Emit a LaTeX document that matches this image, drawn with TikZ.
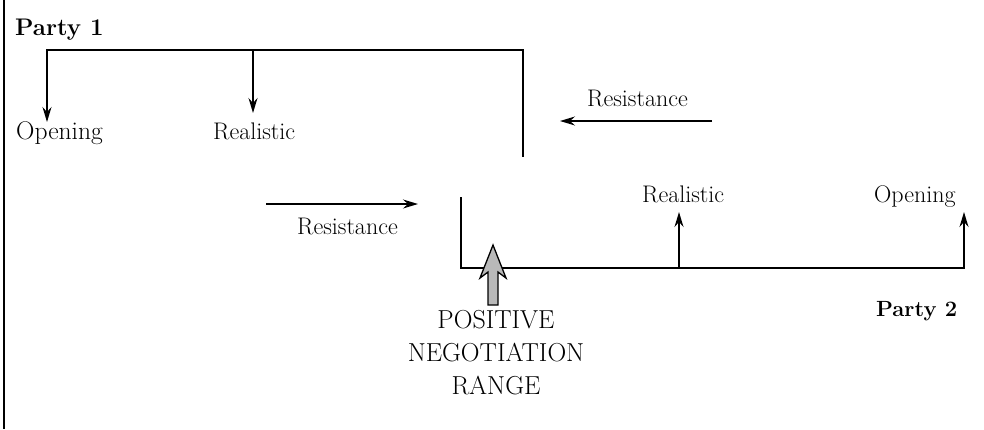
\documentclass[tikz,border=0pt]{standalone}
\usetikzlibrary{arrows.meta}
\begin{document}
\begin{tikzpicture}[x=1pt,y=-1pt,
  lbl/.style={inner sep=0pt,anchor=base west,font=\fontsize{24}{28}\selectfont},
  party/.style={inner sep=0pt,anchor=base west,font=\fontsize{24}{28}\selectfont\bfseries},
  bracket/.style={line width=2pt,line cap=rect},
  arr/.style={line width=1.4pt,-{Stealth[length=15pt,width=9pt,inset=5pt]}},
  bigarrow/.style={draw=black,line width=1.3pt,fill=gray!55,line join=miter}]
\useasboundingbox (0,0) rectangle (984,429);
% left border
\coordinate (bT) at (4,0);
\coordinate (bB) at (4,429);
\draw[line width=1.6pt] (bT) -- (bB);
% texts
\node[party] (party1) at (15,35) {Party 1};
\node[lbl,font=\fontsize{25.5}{30}\selectfont] (open1) at (16,139) {Opening};
\node[lbl] (real1) at (213,139) {Realistic};
\node[lbl] (res1) at (587,106) {Resistance};
\node[lbl] (res2) at (297,234) {Resistance};
\node[lbl] (real2) at (642,202) {Realistic};
\node[lbl] (open2) at (874,202) {Opening};
\node[party,font=\fontsize{22}{26}\selectfont\bfseries] (party2) at (876,316) {Party 2};
\node[inner sep=0pt,anchor=north,align=center,font=\fontsize{26}{33}\selectfont] (pnr) at (496,310) {POSITIVE\\NEGOTIATION\\RANGE};
% party 1 bracket
\coordinate (c1L) at (47,50);
\coordinate (c1M) at (253,50);
\coordinate (c1R) at (523,50);
\coordinate (c1B) at (523,156);
\coordinate (t1L) at (47,122);
\coordinate (t1M) at (253,113);
\draw[bracket] (c1L) -- (c1R) -- (c1B);
\draw[arr] (c1L) -- (t1L);
\draw[arr] (c1M) -- (t1M);
% resistance arrows
\coordinate (r1s) at (712,121);
\coordinate (r1e) at (560,121);
\coordinate (r2s) at (266,204);
\coordinate (r2e) at (418,204);
\draw[arr] (r1s) -- (r1e);
\draw[arr] (r2s) -- (r2e);
% party 2 bracket
\coordinate (c2T) at (461,198);
\coordinate (c2L) at (461,268);
\coordinate (c2M) at (679,268);
\coordinate (c2R) at (964,268);
\coordinate (t2M) at (679,212);
\coordinate (t2R) at (964,212);
\draw[bracket] (c2T) -- (c2L) -- (c2R);
\draw[arr] (c2M) -- (t2M);
\draw[arr] (c2R) -- (t2R);
% positive negotiation range arrow
\coordinate (pa) at (493,305);
\draw[bigarrow] (pa) ++(-5,0) -- ++(0,-33) -- ++(-8,6) -- (493,245) -- (506,278) -- ++(-8,-6) -- ++(0,33) -- cycle;
\end{tikzpicture}
\end{document}
